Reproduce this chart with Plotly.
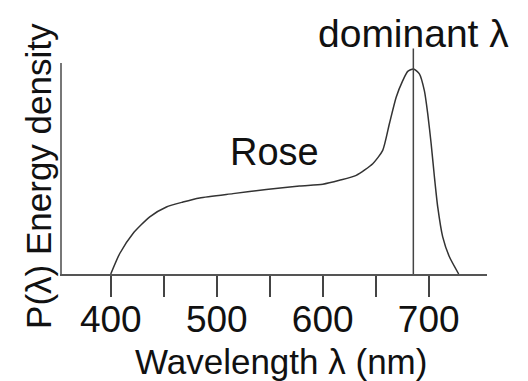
import plotly.graph_objects as go

# Data (wavelength in nm, relative energy density)
wavelength = [400, 408.5, 421, 436.8, 452.5, 468.1, 483.9, 515.3, 546.7, 578.1, 600.1,
              615.8, 631.6, 647.2, 656.6, 662.9, 669.3, 675.5, 680.2, 685.6, 691.2,
              695.9, 699.1, 702.3, 705.4, 708.5, 713.2, 719.5, 728.3]
energy = [0.0, 0.10, 0.198, 0.279, 0.327, 0.351, 0.371, 0.392, 0.412, 0.429, 0.438,
          0.457, 0.481, 0.538, 0.603, 0.733, 0.862, 0.943, 0.988, 1.0, 0.976,
          0.894, 0.781, 0.635, 0.473, 0.327, 0.181, 0.084, 0.0]
dominant_wavelength = 685.5
tick_values = [400, 450, 500, 550, 600, 650, 700]
tick_labels = ["400", "", "500", "", "600", "", "700"]

FONT = "Liberation Sans, Arial, sans-serif"
TXT = "#111111"

fig = go.Figure()
fig.add_trace(go.Scatter(
    x=wavelength, y=energy, mode="lines",
    line=dict(color="#333333", width=1.5, shape="spline", smoothing=0.6),
    hoverinfo="skip", showlegend=False,
))

fig.update_layout(
    width=528, height=381,
    margin=dict(l=62, r=41, t=63, b=107),
    paper_bgcolor="white", plot_bgcolor="white",
    font=dict(family=FONT, size=34, color=TXT),
    xaxis=dict(
        range=[354, 755], showgrid=False, zeroline=False,
        showline=True, linecolor="#555555", linewidth=1.5,
        ticks="outside", ticklen=21, tickwidth=1.5, tickcolor="#444444",
        tickvals=tick_values, ticktext=tick_labels,
        tickfont=dict(family=FONT, size=37, color=TXT),
        ticklabelstandoff=-9,
    ),
    yaxis=dict(
        range=[0, 1.029], showgrid=False, zeroline=False,
        showline=True, linecolor="#777777", linewidth=1.5,
        showticklabels=False, ticks="",
    ),
)

annotations = [
    dict(text="Wavelength λ (nm)", x=0.516, y=-0.414, xref="paper", yref="paper",
         showarrow=False, xanchor="center", yanchor="middle",
         font=dict(family=FONT, size=35, color=TXT)),
    dict(text="P(λ) Energy density", x=-0.054, y=0.465, xref="paper", yref="paper",
         showarrow=False, xanchor="center", yanchor="middle", textangle=-90,
         font=dict(family=FONT, size=35, color=TXT)),
    dict(text="Rose", x=0.5, y=0.58, xref="paper", yref="paper",
         showarrow=False, xanchor="center", yanchor="middle",
         font=dict(family=FONT, size=38, color=TXT)),
    dict(text="dominant λ", x=0.827, y=1.14, xref="paper", yref="paper",
         showarrow=False, xanchor="center", yanchor="middle",
         font=dict(family=FONT, size=39, color=TXT)),
    dict(text="", x=dominant_wavelength, y=0, xref="x", yref="y",
         ax=dominant_wavelength, ay=1.1065, axref="x", ayref="y",
         showarrow=True, arrowhead=0, arrowwidth=1.5, arrowcolor="#444444",
         standoff=0, startstandoff=0),
]
fig.update_layout(annotations=annotations)

fig.write_html("out.html", config={"displayModeBar": False},
               post_script="document.body.style.margin='0';")
